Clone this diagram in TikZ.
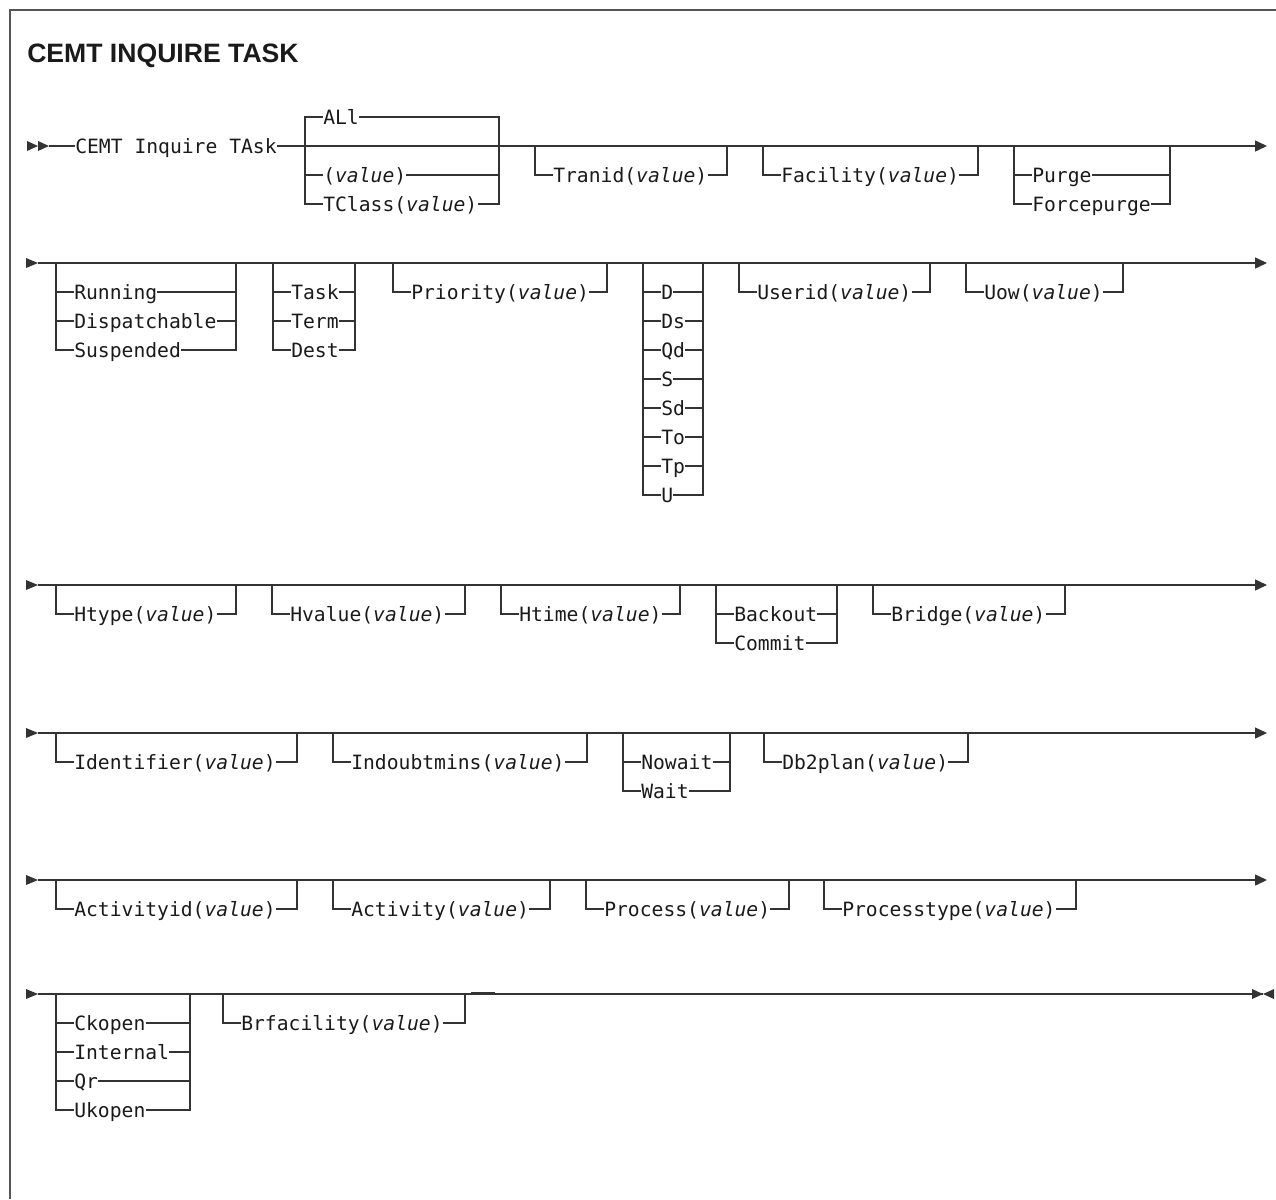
\documentclass[tikz,border=0pt]{standalone}
\usepackage{fontspec}
\usetikzlibrary{arrows.meta}
\newfontfamily\monofont{DejaVu Sans Mono}
\newfontfamily\titlefont{Liberation Sans}
\definecolor{linec}{HTML}{333333}
\definecolor{txtc}{HTML}{1A1A1A}
\definecolor{framec}{HTML}{555555}
\newcommand\valit{\textit{value}}
\tikzset{
  rail/.style={draw=linec, line width=1.05pt},
  endarrow/.style={rail, -{Triangle[length=9pt,width=8.25pt]}},
  kw/.style={font=\monofont\fontsize{14.76pt}{17pt}\selectfont, text=txtc,
    inner sep=0pt, anchor=west, text height=10.76pt, text depth=0pt},
  tri/.style={fill=linec, draw=none},
}
% single optional keyword below the main line
\newcommand\bypass[5]{%
  \node[kw] (#1) at ({#2+18},{#4+29}) {#5};
  \draw[rail] (#2,#4) |- (#1.west);
  \draw[rail] (#1.east) -| (#3,#4);
}
% choice group below the main line: name, L, R, Y, count, list
\newcommand\choicebelow[6]{%
  \foreach \t [count=\i] in {#6} {
    \node[kw] (#1\i) at ({#2+18},{#4+29*\i}) {\t};
    \draw[rail] (#2,{#4+29*\i}) -- (#1\i.west);
    \draw[rail] (#1\i.east) -- (#3,{#4+29*\i});
  }
  \draw[rail] (#2,#4) |- (#1#5.west);
  \draw[rail] (#1#5.east) -| (#3,#4);
}
\newcommand\startarrow[1]{%
  \fill[tri] (26,{#1-5}) -- (38,#1) -- (26,{#1+5}) -- cycle;
}
\begin{document}
\begin{tikzpicture}[x=0.75pt,y=-0.75pt]
\useasboundingbox (0,0) rectangle (1276,1199);
% frame
\draw[framec, line width=1.1pt] (10,1199) -- (10,10) -- (1276,10);
% title
\node[font=\titlefont\bfseries\fontsize{19.95pt}{22pt}\selectfont, text=txtc,
  anchor=base west, inner sep=0pt] (title) at (27,62) {CEMT INQUIRE TASK};

% ---------------- row 1 ----------------
\fill[tri] (27,141) -- (38,146) -- (27,151) -- cycle;
\fill[tri] (38,141) -- (49,146) -- (38,151) -- cycle;
\coordinate (r1s) at (49,146);
\coordinate (r1e) at (1267,146);
\node[kw] (cemt) at (75,146) {CEMT Inquire TAsk};
\draw[rail] (r1s) -- (cemt.west);
\draw[endarrow] (cemt.east) -- (r1e);
% ALl group
\node[kw] (all) at (323,117) {ALl};
\node[kw] (valA) at (323,175) {(\valit)};
\node[kw] (tcl) at (323,204) {TClass(\valit)};
\draw[rail] (all.west) -- (305,117) -- (305,204) -- (tcl.west);
\draw[rail] (all.east) -- (499,117) -- (499,204) -- (tcl.east);
\draw[rail] (305,175) -- (valA.west);
\draw[rail] (valA.east) -- (499,175);
\bypass{tranid}{535}{727}{146}{Tranid(\valit)}
\bypass{facil}{763}{978}{146}{Facility(\valit)}
\choicebelow{purge}{1014}{1170}{146}{2}{Purge,Forcepurge}

% ---------------- row 2 ----------------
\startarrow{263}
\coordinate (r2s) at (38,263);
\coordinate (r2e) at (1267,263);
\draw[endarrow] (r2s) -- (r2e);
\choicebelow{run}{56}{236}{263}{3}{Running,Dispatchable,Suspended}
\choicebelow{task}{273}{355}{263}{3}{Task,Term,Dest}
\bypass{prio}{393}{607}{263}{Priority(\valit)}
\choicebelow{dd}{643}{703}{263}{8}{D,Ds,Qd,S,Sd,To,Tp,U}
\bypass{userid}{739}{930}{263}{Userid(\valit)}
\bypass{uow}{966}{1123}{263}{Uow(\valit)}

% ---------------- row 3 ----------------
\startarrow{585}
\coordinate (r3s) at (38,585);
\coordinate (r3e) at (1267,585);
\draw[endarrow] (r3s) -- (r3e);
\bypass{htype}{56}{236}{585}{Htype(\valit)}
\bypass{hvalue}{272}{465}{585}{Hvalue(\valit)}
\bypass{htime}{501}{680}{585}{Htime(\valit)}
\choicebelow{back}{716}{837}{585}{2}{Backout,Commit}
\bypass{bridge}{873}{1065}{585}{Bridge(\valit)}

% ---------------- row 4 ----------------
\startarrow{733}
\coordinate (r4s) at (38,733);
\coordinate (r4e) at (1267,733);
\draw[endarrow] (r4s) -- (r4e);
\bypass{ident}{56}{297}{733}{Identifier(\valit)}
\bypass{indoubt}{333}{587}{733}{Indoubtmins(\valit)}
\choicebelow{wait}{623}{730}{733}{2}{Nowait,Wait}
\bypass{db2}{764}{968}{733}{Db2plan(\valit)}

% ---------------- row 5 ----------------
\startarrow{880}
\coordinate (r5s) at (38,880);
\coordinate (r5e) at (1267,880);
\draw[endarrow] (r5s) -- (r5e);
\bypass{actid}{56}{297}{880}{Activityid(\valit)}
\bypass{act}{333}{550}{880}{Activity(\valit)}
\bypass{proc}{586}{789}{880}{Process(\valit)}
\bypass{ptype}{824}{1076}{880}{Processtype(\valit)}

% ---------------- row 6 ----------------
\startarrow{994}
\coordinate (r6s) at (38,994);
\coordinate (r6e) at (1263,994);
\draw[rail] (r6s) -- (r6e);
\choicebelow{ck}{56}{190}{994}{4}{Ckopen,Internal,Qr,Ukopen}
\bypass{brf}{223}{465}{994}{Brfacility(\valit)}
\coordinate (barA) at (471,993);
\coordinate (barB) at (495,993);
\draw[draw=linec, line width=2.2pt] (barA) -- (barB);
\fill[tri] (1252,989) -- (1263,994) -- (1252,999) -- cycle;
\fill[tri] (1274,989) -- (1263,994) -- (1274,999) -- cycle;
\end{tikzpicture}
\end{document}
